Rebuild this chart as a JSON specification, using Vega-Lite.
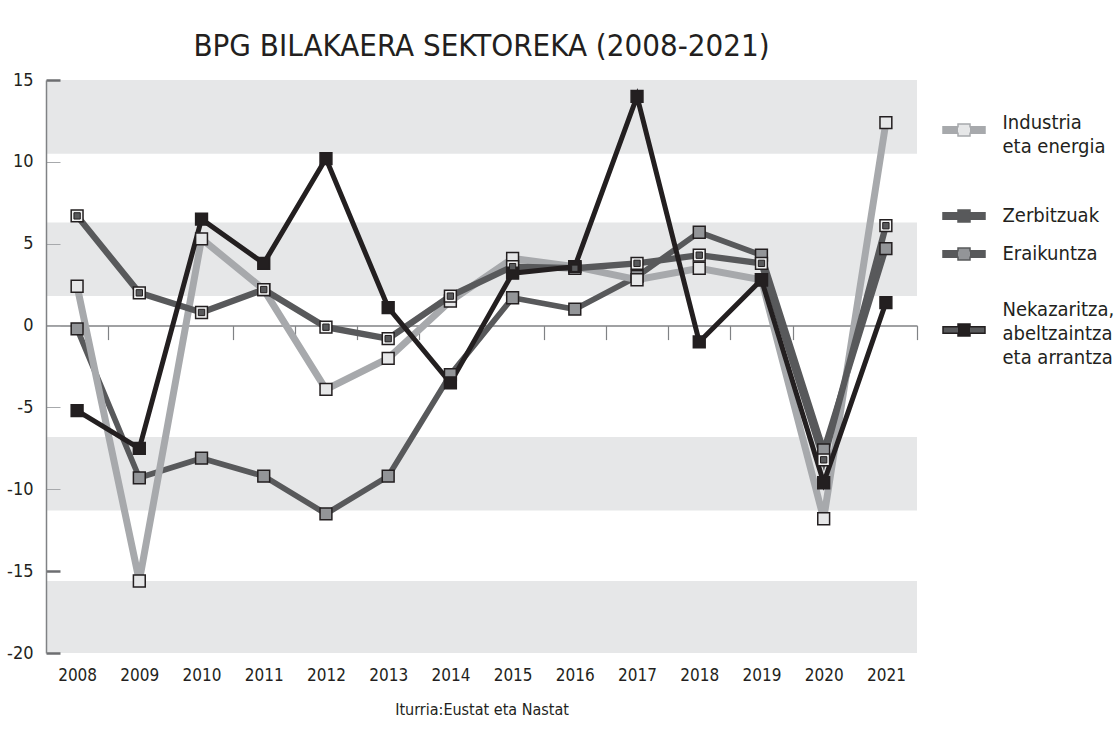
{
  "$schema": "https://vega.github.io/schema/vega-lite/v6.json",
  "width": 871,
  "height": 573,
  "autosize": {"type": "none"},
  "padding": {"left": 46, "top": 80, "right": 198, "bottom": 78},
  "background": "white",
  "title": {
    "text": "BPG BILAKAERA SEKTOREKA (2008-2021)",
    "font": "DejaVu Sans Condensed, DejaVu Sans",
    "fontSize": 31,
    "fontWeight": "normal",
    "color": "#231f20",
    "anchor": "middle",
    "offset": 8
  },
  "config": {"view": {"stroke": null}, "font": "DejaVu Sans Condensed, DejaVu Sans"},
  "datasets": {
    "bands": [
      {"lo": 10.5, "hi": 15},
      {"lo": 1.8, "hi": 6.3},
      {"lo": -11.3, "hi": -6.8},
      {"lo": -20, "hi": -15.6}
    ],
    "series": [
      {"sector": "Eraikuntza", "year": "2008", "value": -0.2},
      {"sector": "Eraikuntza", "year": "2009", "value": -9.3},
      {"sector": "Eraikuntza", "year": "2010", "value": -8.1},
      {"sector": "Eraikuntza", "year": "2011", "value": -9.2},
      {"sector": "Eraikuntza", "year": "2012", "value": -11.5},
      {"sector": "Eraikuntza", "year": "2013", "value": -9.2},
      {"sector": "Eraikuntza", "year": "2014", "value": -3.0},
      {"sector": "Eraikuntza", "year": "2015", "value": 1.7},
      {"sector": "Eraikuntza", "year": "2016", "value": 1.0},
      {"sector": "Eraikuntza", "year": "2017", "value": 3.0},
      {"sector": "Eraikuntza", "year": "2018", "value": 5.7},
      {"sector": "Eraikuntza", "year": "2019", "value": 4.3},
      {"sector": "Eraikuntza", "year": "2020", "value": -7.6},
      {"sector": "Eraikuntza", "year": "2021", "value": 4.7},
      {"sector": "Industria eta energia", "year": "2008", "value": 2.4},
      {"sector": "Industria eta energia", "year": "2009", "value": -15.6},
      {"sector": "Industria eta energia", "year": "2010", "value": 5.3},
      {"sector": "Industria eta energia", "year": "2011", "value": 2.2},
      {"sector": "Industria eta energia", "year": "2012", "value": -3.9},
      {"sector": "Industria eta energia", "year": "2013", "value": -2.0},
      {"sector": "Industria eta energia", "year": "2014", "value": 1.5},
      {"sector": "Industria eta energia", "year": "2015", "value": 4.1},
      {"sector": "Industria eta energia", "year": "2016", "value": 3.6},
      {"sector": "Industria eta energia", "year": "2017", "value": 2.8},
      {"sector": "Industria eta energia", "year": "2018", "value": 3.5},
      {"sector": "Industria eta energia", "year": "2019", "value": 2.8},
      {"sector": "Industria eta energia", "year": "2020", "value": -11.8},
      {"sector": "Industria eta energia", "year": "2021", "value": 12.4},
      {"sector": "Zerbitzuak", "year": "2008", "value": 6.7},
      {"sector": "Zerbitzuak", "year": "2009", "value": 2.0},
      {"sector": "Zerbitzuak", "year": "2010", "value": 0.8},
      {"sector": "Zerbitzuak", "year": "2011", "value": 2.2},
      {"sector": "Zerbitzuak", "year": "2012", "value": -0.1},
      {"sector": "Zerbitzuak", "year": "2013", "value": -0.8},
      {"sector": "Zerbitzuak", "year": "2014", "value": 1.8},
      {"sector": "Zerbitzuak", "year": "2015", "value": 3.6},
      {"sector": "Zerbitzuak", "year": "2016", "value": 3.5},
      {"sector": "Zerbitzuak", "year": "2017", "value": 3.8},
      {"sector": "Zerbitzuak", "year": "2018", "value": 4.3},
      {"sector": "Zerbitzuak", "year": "2019", "value": 3.8},
      {"sector": "Zerbitzuak", "year": "2020", "value": -8.2},
      {"sector": "Zerbitzuak", "year": "2021", "value": 6.1},
      {"sector": "Nekazaritza, abeltzaintza eta arrantza", "year": "2008", "value": -5.2},
      {"sector": "Nekazaritza, abeltzaintza eta arrantza", "year": "2009", "value": -7.5},
      {"sector": "Nekazaritza, abeltzaintza eta arrantza", "year": "2010", "value": 6.5},
      {"sector": "Nekazaritza, abeltzaintza eta arrantza", "year": "2011", "value": 3.8},
      {"sector": "Nekazaritza, abeltzaintza eta arrantza", "year": "2012", "value": 10.2},
      {"sector": "Nekazaritza, abeltzaintza eta arrantza", "year": "2013", "value": 1.1},
      {"sector": "Nekazaritza, abeltzaintza eta arrantza", "year": "2014", "value": -3.5},
      {"sector": "Nekazaritza, abeltzaintza eta arrantza", "year": "2015", "value": 3.2},
      {"sector": "Nekazaritza, abeltzaintza eta arrantza", "year": "2016", "value": 3.6},
      {"sector": "Nekazaritza, abeltzaintza eta arrantza", "year": "2017", "value": 14.0},
      {"sector": "Nekazaritza, abeltzaintza eta arrantza", "year": "2018", "value": -1.0},
      {"sector": "Nekazaritza, abeltzaintza eta arrantza", "year": "2019", "value": 2.8},
      {"sector": "Nekazaritza, abeltzaintza eta arrantza", "year": "2020", "value": -9.6},
      {"sector": "Nekazaritza, abeltzaintza eta arrantza", "year": "2021", "value": 1.4}
    ]
  },
  "layer": [
    {
      "data": {"name": "bands"},
      "mark": {"type": "rect", "color": "#e6e7e8"},
      "encoding": {
        "y": {
          "field": "lo", "type": "quantitative",
          "scale": {"domain": [-20, 15], "nice": false, "zero": false},
          "axis": {
            "orient": "left",
            "values": [15, 10, 5, 0, -5, -10, -15, -20],
            "labelExpr": "'' + datum.value",
            "title": null,
            "grid": false,
            "domainColor": "#808285",
            "domainWidth": 1.5,
            "tickSize": -14,
            "tickColor": {"condition": {"test": "datum.value == 15 || datum.value <= -15", "value": "#6d6e71"}, "value": "#a7a9ac"},
            "tickWidth": {"condition": {"test": "datum.value == 15 || datum.value <= -15", "value": 2.5}, "value": 1},
            "labelFontSize": 18,
            "labelColor": "#231f20",
            "labelPadding": 27,
            "zindex": 1
          }
        },
        "y2": {"field": "hi"}
      }
    },
    {
      "data": {"name": "series"},
      "mark": {"type": "line"},
      "encoding": {
        "x": {
          "field": "year", "type": "ordinal",
          "scale": {"type": "point", "padding": 0.5},
          "axis": {
            "orient": "bottom",
            "title": "Iturria:Eustat eta Nastat",
            "titleFontSize": 16,
            "titleFontWeight": "normal",
            "titleColor": "#231f20",
            "titlePadding": 18,
            "domain": false,
            "ticks": false,
            "labelAngle": 0,
            "labelFontSize": 17,
            "labelColor": "#231f20",
            "labelPadding": 14
          }
        },
        "y": {"field": "value", "type": "quantitative", "axis": null},
        "stroke": {
          "field": "sector", "type": "nominal",
          "scale": {
            "domain": ["Nekazaritza, abeltzaintza eta arrantza", "Eraikuntza", "Zerbitzuak", "Industria eta energia"],
            "range": ["#231f20", "#58595b", "#58595b", "#a7a9ac"]
          },
          "legend": {
            "orient": "none",
            "values": ["Industria eta energia", "Zerbitzuak", "Eraikuntza", "Nekazaritza, abeltzaintza eta arrantza"],
            "legendX": 870.5,
            "legendY": 2.5,
            "title": null,
            "padding": 25.5,
            "symbolType": "M-1,-0.15H-0.2857V-0.2857H0.2857V-0.15H1V0.15H0.2857V0.2857H-0.2857V0.15H-1Z",
            "symbolSize": 1764,
            "symbolStrokeWidth": 1.5,
            "labelFontSize": 20,
            "labelColor": "#231f20",
            "labelOffset": 16.5,
            "rowPadding": 0,
            "labelExpr": "datum.value == 'Industria eta energia' ? ['Industria', 'eta energia'] : datum.value == 'Zerbitzuak' ? ['\u00a0', 'Zerbitzuak'] : datum.value == 'Eraikuntza' ? ['\u00a0', 'Eraikuntza', '\u00a0', '\u00a0'] : datum.value == 'Nekazaritza, abeltzaintza eta arrantza' ? ['Nekazaritza,', 'abeltzaintza', 'eta arrantza'] : datum.value",
            "encoding": {
              "symbols": {
                "fill": {"value": {"expr": "{gradient: 'linear', stops: [{offset: 0, color: datum.value == 'Industria eta energia' ? '#a7a9ac' : '#58595b'}, {offset: 0.357, color: datum.value == 'Industria eta energia' ? '#a7a9ac' : '#58595b'}, {offset: 0.357, color: datum.value == 'Industria eta energia' ? '#e6e7e8' : datum.value == 'Zerbitzuak' ? '#58595b' : datum.value == 'Eraikuntza' ? '#939598' : '#231f20'}, {offset: 0.643, color: datum.value == 'Industria eta energia' ? '#e6e7e8' : datum.value == 'Zerbitzuak' ? '#58595b' : datum.value == 'Eraikuntza' ? '#939598' : '#231f20'}, {offset: 0.643, color: datum.value == 'Industria eta energia' ? '#a7a9ac' : '#58595b'}, {offset: 1, color: datum.value == 'Industria eta energia' ? '#a7a9ac' : '#58595b'}]}"}},
                "stroke": {"value": {"expr": "{gradient: 'linear', stops: [{offset: 0, color: datum.value == 'Industria eta energia' ? '#a7a9ac' : '#58595b'}, {offset: 0.345, color: datum.value == 'Industria eta energia' ? '#a7a9ac' : '#58595b'}, {offset: 0.345, color: '#231f20'}, {offset: 0.655, color: '#231f20'}, {offset: 0.655, color: datum.value == 'Industria eta energia' ? '#a7a9ac' : '#58595b'}, {offset: 1, color: datum.value == 'Industria eta energia' ? '#a7a9ac' : '#58595b'}]}"}}
              },
              "labels": {
                "lineHeight": {"value": {"expr": "datum.value == 'Zerbitzuak' ? 48.5 : datum.value == 'Eraikuntza' ? 18 : 24"}},
                "dy": {"value": {"expr": "datum.value == 'Industria eta energia' ? -7 : datum.value == 'Zerbitzuak' ? -48.5 : datum.value == 'Eraikuntza' ? -18 : datum.value == 'Nekazaritza, abeltzaintza eta arrantza' ? -20 : 0"}}
              }
            }
          }
        },
        "strokeWidth": {
          "field": "sector", "type": "nominal",
          "scale": {"domain": ["Industria eta energia", "Zerbitzuak", "Eraikuntza", "Nekazaritza, abeltzaintza eta arrantza"], "range": [7, 5, 7.5, 8]},
          "legend": null
        }
      }
    },
    {
      "data": {"name": "series"},
      "mark": {"type": "point", "shape": "square", "filled": true, "size": 140, "stroke": "#231f20", "strokeWidth": 1.5, "opacity": 1},
      "encoding": {
        "x": {
          "field": "year", "type": "ordinal",
          "axis": {
            "orient": "top",
            "offset": -245.6,
            "title": null,
            "labels": false,
            "domain": true,
            "domainColor": "#808285",
            "domainWidth": 1.5,
            "ticks": true,
            "tickSize": -14,
            "tickOffset": 31.1,
            "tickColor": "#808285",
            "tickWidth": 1.2,
            "grid": false
          }
        },
        "y": {"field": "value", "type": "quantitative", "axis": null},
        "fill": {
          "field": "sector", "type": "nominal",
          "scale": {
            "domain": ["Industria eta energia", "Zerbitzuak", "Eraikuntza", "Nekazaritza, abeltzaintza eta arrantza"],
            "range": ["#e6e7e8", "#f1f2f2", "#939598", "#231f20"]
          },
          "legend": null
        }
      }
    },
    {
      "data": {"name": "series"},
      "transform": [{"filter": "datum.sector == 'Zerbitzuak'"}],
      "mark": {"type": "point", "shape": "square", "filled": true, "size": 40, "fill": "#58595b", "stroke": "#231f20", "strokeWidth": 1, "opacity": 1},
      "encoding": {
        "x": {"field": "year", "type": "ordinal", "axis": null},
        "y": {"field": "value", "type": "quantitative", "axis": null}
      }
    }
  ],
  "resolve": {"axis": {"x": "independent", "y": "independent"}}
}
